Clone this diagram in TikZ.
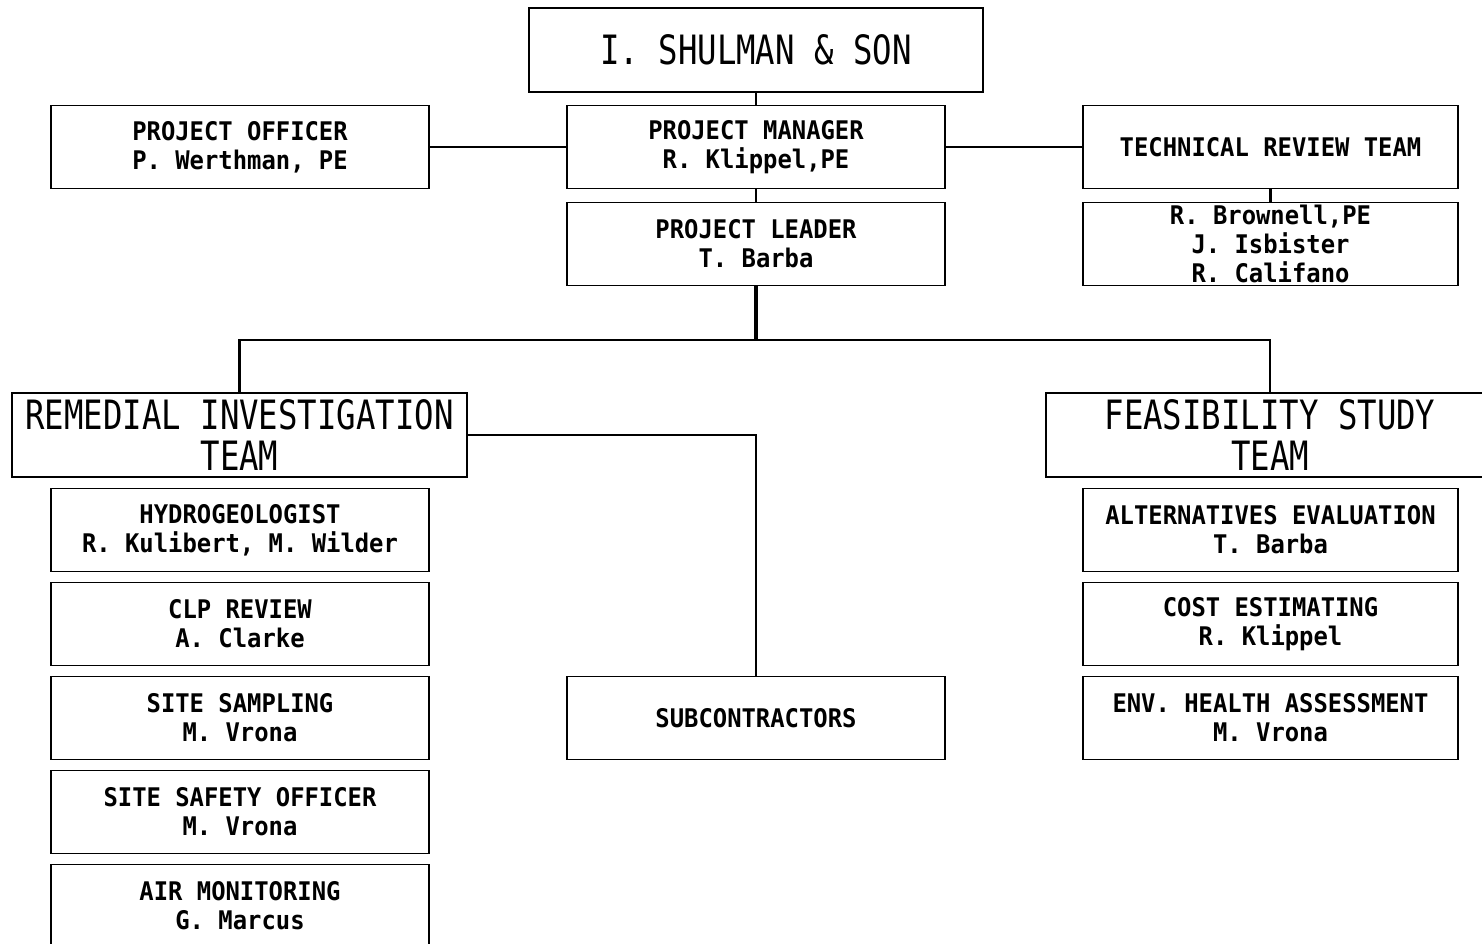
\documentclass[tikz,border=0pt]{standalone}
\usepackage{fontspec}
\newfontfamily\plotfont[FakeStretch=0.93]{DejaVu Sans Mono}
\newfontfamily\bigplotfont[FakeStretch=0.8]{DejaVu Sans Mono}

\tikzset{
  unit/.style={draw, line width=1.1pt, minimum width=7.56cm, minimum height=1.66cm,
    align=center, inner sep=1pt,
    font=\plotfont\fontsize{14.6}{16.5}\selectfont\bfseries},
  team/.style={unit, minimum width=9.1cm, minimum height=1.68cm,
    font=\bigplotfont\fontsize{23}{23.3}\selectfont},
  link/.style={line width=1.3pt}
}

\begin{document}
\begin{tikzpicture}[x=0.02cm, y=-0.02cm]

    \clip (0,0) rectangle (1482,944);

    % top of the chart
    \node[team] (shulman) at (756,50) {I. SHULMAN \& SON};
    \node[unit] (po) at (240,147) {PROJECT OFFICER\\P. Werthman, PE};
    \node[unit] (pm) at (756,147) {PROJECT MANAGER\\R. Klippel,PE};
    \node[unit, minimum width=7.5cm] (trt) at (1270.5,147) {TECHNICAL REVIEW TEAM};
    \node[unit] (pl) at (756,244) {PROJECT LEADER\\T. Barba};
    \node[unit, minimum width=7.5cm] (trtnames) at (1270.5,244)
      {R. Brownell,PE\\J. Isbister\\R. Califano};

    \draw[link] (shulman) -- (pm);
    \draw[link] (po) -- (pm);
    \draw[link] (pm) -- (trt);
    \draw[link] (pm) -- (pl);
    \draw[link] (trt) -- (trtnames);

    % the two teams
    \node[team] (rit) at (239.5,435) {REMEDIAL INVESTIGATION\\TEAM};
    \node[team, minimum width=8.96cm] (fst) at (1270,435) {FEASIBILITY STUDY\\TEAM};
    \coordinate (split) at (756,340);

    \draw[link, line width=2pt] (pl) -- (split);
    \draw[link] (split) -| (rit.north);
    \draw[link] (split) -| (fst.north);

    % remedial investigation tasks
    \foreach \i/\task/\who in {1/HYDROGEOLOGIST/{R. Kulibert, M. Wilder},
                               2/CLP REVIEW/A. Clarke,
                               3/SITE SAMPLING/M. Vrona,
                               4/SITE SAFETY OFFICER/M. Vrona,
                               5/AIR MONITORING/G. Marcus} {
      \node[unit] (ri\i) at (240,436+94*\i) {\task\\\who};
    }

    % feasibility study tasks
    \foreach \i/\task/\who in {1/ALTERNATIVES EVALUATION/T. Barba,
                               2/COST ESTIMATING/R. Klippel,
                               3/ENV. HEALTH ASSESSMENT/M. Vrona} {
      \node[unit, minimum width=7.5cm] (fs\i) at (1270.5,436+94*\i) {\task\\\who};
    }

    \node[unit] (sub) at (756,718) {SUBCONTRACTORS};
    \draw[link] (rit.east) -| (sub.north);

\end{tikzpicture}
\end{document}
